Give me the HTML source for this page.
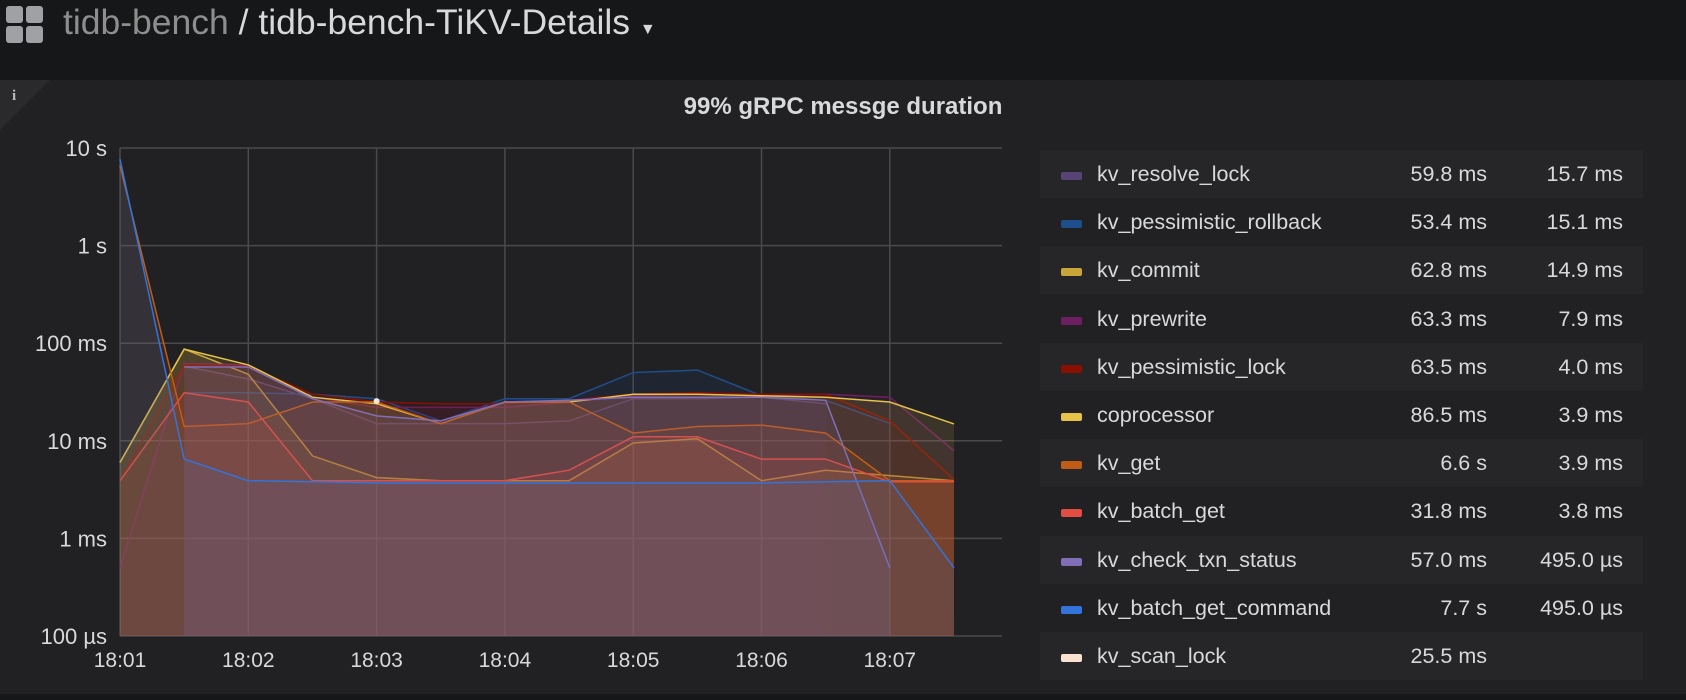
<!DOCTYPE html>
<html><head><meta charset="utf-8">
<style>
body{margin:0;width:1686px;height:700px;background:#161719;font-family:"Liberation Sans",sans-serif;overflow:hidden;position:relative}
#hdr{position:absolute;left:0;top:0;width:1686px;height:80px;background:#161719}
#panel{position:absolute;left:0;top:80px;width:1686px;height:614px;background:#212124}
.lrow{position:absolute;left:1040px;width:603px;height:48px;font-size:21.5px;color:#d8d9da}
.lrow span{position:absolute;top:12px}
</style></head><body>
<div id="hdr">
  <div style="position:absolute;left:6px;top:6px;width:38px;height:38px">
    <div style="position:absolute;left:0;top:0;width:17px;height:17px;background:#9fa1a4;border-radius:3px"></div>
    <div style="position:absolute;left:20px;top:0;width:17px;height:17px;background:#9fa1a4;border-radius:3px"></div>
    <div style="position:absolute;left:0;top:20px;width:17px;height:17px;background:#9fa1a4;border-radius:3px"></div>
    <div style="position:absolute;left:20px;top:20px;width:17px;height:17px;background:#9fa1a4;border-radius:3px"></div>
  </div>
  <div style="position:absolute;left:63px;top:2px;font-size:35.5px;color:#d8d9da;white-space:nowrap"><span style="color:#8e8e8e">tidb-bench</span> / tidb-bench-TiKV-Details <span style="font-size:16px">▼</span></div>
</div>
<div id="panel">
  <div style="position:absolute;left:0;top:0;width:0;height:0;border-top:50px solid #2a2a2c;border-right:50px solid transparent"></div>
  <div style="position:absolute;left:12px;top:8px;color:#bbb;font-size:15px;font-weight:bold;font-family:'Liberation Serif',serif">i</div>
  <div style="position:absolute;left:0;width:1686px;top:13px;text-align:center;font-size:24px;font-weight:bold;color:#d8d9da">99% gRPC messge duration</div>
</div>
<svg id="chart" width="1686" height="700" style="position:absolute;left:0;top:0"></svg>
<div id="legend"></div>
<script>
const times=["18:01","18:01:30","18:02","18:02:30","18:03","18:03:30","18:04","18:04:30","18:05","18:05:30","18:06","18:06:30","18:07","18:07:30"];
const xTicks=["18:01","18:02","18:03","18:04","18:05","18:06","18:07"];
const yTicks=[10000,1000,100,10,1,0.1];
const yTickLabels=["10 s","1 s","100 ms","10 ms","1 ms","100 µs"];
const seriesNames=["kv_resolve_lock","kv_pessimistic_rollback","kv_commit","kv_prewrite","kv_pessimistic_lock","coprocessor","kv_get","kv_batch_get","kv_check_txn_status","kv_batch_get_command","kv_scan_lock"];
const seriesColors=["#584477","#1f4e8c","#c9a63a","#6d1f62","#890f02","#e5c248","#c15c17","#e24d42","#806eb7","#3274d9","#f9e2d2"];
const legendMax=["59.8 ms","53.4 ms","62.8 ms","63.3 ms","63.5 ms","86.5 ms","6.6 s","31.8 ms","57.0 ms","7.7 s","25.5 ms"];
const legendCur=["15.7 ms","15.1 ms","14.9 ms","7.9 ms","4.0 ms","3.9 ms","3.9 ms","3.8 ms","495.0 µs","495.0 µs",""];
const sResolveLock=[null,58,43,27,15,15,15,16,27,27,28,24,null,null];
const sPessRollback=[null,31,31,30,27,16,27,27,50,53,29,26,15.1,null];
const sCommit=[6,87,48,7,4.2,3.9,3.9,3.9,9.5,10.5,3.9,5,4.4,3.9];
const sPrewrite=[0.5,62,60,28,22,22,22,25,29,30,29,30,28,7.9];
const sPessLock=[3.9,60,58,30,25,24,24,26,30,31,30,30,16,4];
const sCoprocessor=[6,87,60,28,24,15,25,25,30,30,29,28,25,14.9];
const sGet=[6600,14,15,25,25,15,25,25,12,14,14.5,12,3.9,3.9];
const sBatchGet=[3.9,31,25,3.9,3.9,3.9,3.9,5,11,11,6.5,6.5,3.8,3.8];
const sCheckTxn=[null,57,57,27,18,16,25,26,28,28,28,26,0.5,null];
const sBatchGetCmd=[7700,6.5,3.9,3.8,3.7,3.7,3.7,3.7,3.7,3.7,3.7,3.8,3.9,0.5];
const sScanLock=[null,null,null,null,25.5,null,null,null,null,null,null,null,null,null];
const allSeries=[sResolveLock,sPessRollback,sCommit,sPrewrite,sPessLock,sCoprocessor,sGet,sBatchGet,sCheckTxn,sBatchGetCmd,sScanLock];

const X0=120,XSTEP=64.15,YTOP=148,DEC=97.6,PR=1002,YB=636;
const xIdx=i=>X0+i*XSTEP;
const xLabel=t=>xIdx(times.indexOf(t));
const yScale=v=>YTOP+(4-Math.log10(v))*DEC;
const NS="http://www.w3.org/2000/svg";
const svg=document.getElementById('chart');
function mk(tag,attrs){const e=document.createElementNS(NS,tag);for(const k in attrs)e.setAttribute(k,attrs[k]);svg.appendChild(e);return e;}
yTicks.forEach((v,i)=>{
  const g=mk('line',{x1:X0,x2:PR,y1:yScale(v),y2:yScale(v),stroke:'#4a4a4c','stroke-width':1.5});
  
  
  const t=mk('text',{x:107,y:yScale(v)+8,'text-anchor':'end',fill:'#d8d9da','font-size':22,'font-family':'Liberation Sans'});
  t.textContent=yTickLabels[i];
  
  
});
xTicks.forEach(tk=>{
  const x=xLabel(tk);
  const g=mk('line',{x1:x,x2:x,y1:YTOP,y2:YB,stroke:'#4a4a4c','stroke-width':1.5});
  
  
  const t=mk('text',{x:x,y:667,'text-anchor':'middle',fill:'#d8d9da','font-size':21,'font-family':'Liberation Sans'});
  t.textContent=tk;
  
  
});
allSeries.forEach((s,si)=>{
  const c=seriesColors[si];
  let segs=[],cur=[];
  s.forEach((v,i)=>{if(v==null){if(cur.length)segs.push(cur);cur=[];}else cur.push([xIdx(i),yScale(v)]);});
  if(cur.length)segs.push(cur);
  segs.forEach(seg=>{
    if(seg.length==1){
      const d=mk('circle',{cx:seg[0][0],cy:seg[0][1],r:3,fill:c});
      
      
      return;
    }
    const pts=seg.map(p=>p[0].toFixed(1)+','+p[1].toFixed(1)).join(' L');
    const a=mk('path',{d:'M'+seg[0][0]+','+YB+' L'+pts+' L'+seg[seg.length-1][0]+','+YB+' Z',fill:c,'fill-opacity':0.13});
    
    
    const l=mk('path',{d:'M'+pts,fill:'none',stroke:c,'stroke-width':1.5});
    
    
  });
});
const leg=document.getElementById('legend');
seriesNames.forEach((n,i)=>{
  const r=document.createElement('div');
  r.className='lrow';
  r.style.top=(150+i*48.2)+'px';
  r.style.background=i%2==0?'#262628':'#212124';
  
  
  r.innerHTML='<div style="position:absolute;left:21px;top:22px;width:21px;height:8px;border-radius:2px;background:'+seriesColors[i]+'"></div>'+
   '<span style="left:57px">'+n+'</span><span style="right:156px">'+legendMax[i]+'</span><span style="right:20px">'+legendCur[i]+'</span>';
  leg.appendChild(r);
});
</script>
</body></html>
